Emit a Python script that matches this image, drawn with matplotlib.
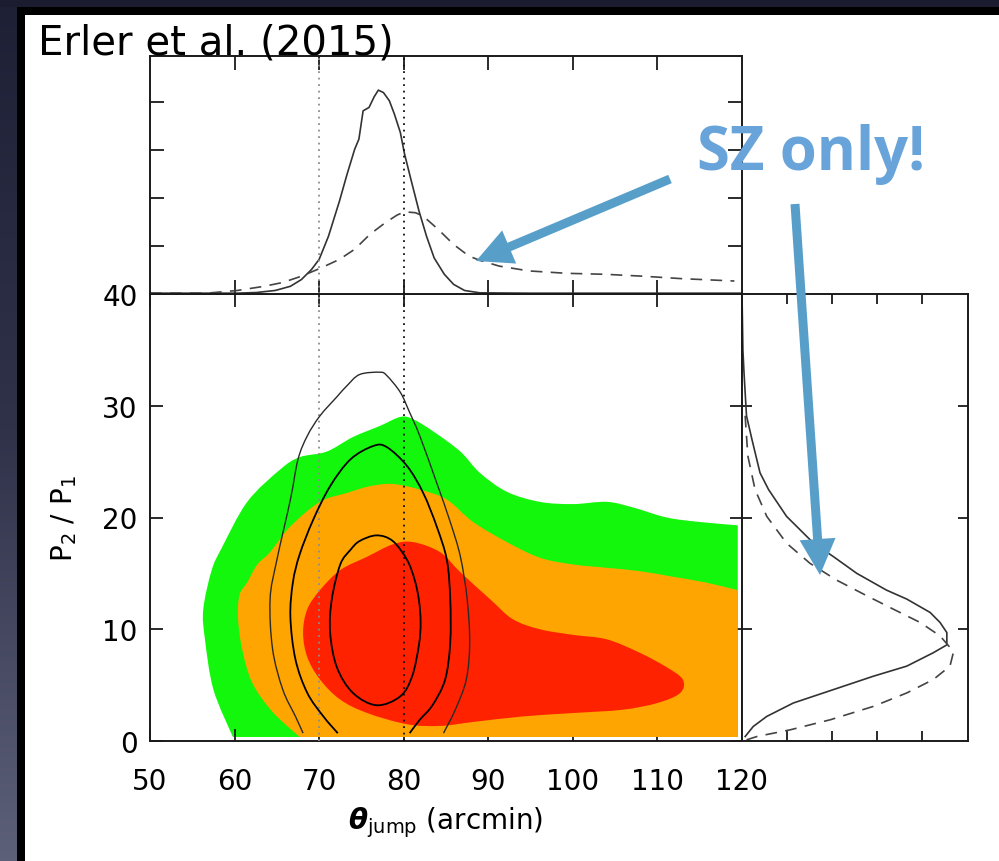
import numpy as np
import matplotlib
matplotlib.use("Agg")
import matplotlib.pyplot as plt
from matplotlib.patches import Rectangle, FancyArrow, PathPatch
from matplotlib.path import Path
from matplotlib.colors import LinearSegmentedColormap

# ---- 2D credible regions (theta_jump [arcmin], P2/P1) : joint SZ + X-ray fit ----
# last entry of each filled region is the corner on the plot edge
green_theta = [59.8, 57.5, 56.5, 56.3, 57.3, 58.5, 61.5, 65.4, 67.7, 70.9, 74.0, 77.2,
               79.6, 81.1, 83.5, 86.7, 89.0, 92.2, 96.1, 100.0, 104.0, 107.1, 111.1,
               115.0, 119.5, 119.5]
green_p = [0.36, 4.6, 9.1, 11.8, 15.3, 17.3, 21.4, 24.3, 25.4, 25.9, 27.2, 28.2,
           29.0, 28.8, 27.7, 25.9, 24.0, 22.3, 21.4, 21.2, 21.4, 20.9, 20.0,
           19.6, 19.3, 0.36]

orange_theta = [67.7, 64.5, 62.1, 60.9, 60.4, 60.6, 61.5, 62.7, 64.2, 66.6, 70.1, 73.3,
                76.0, 78.7, 81.9, 85.1, 88.2, 92.2, 96.1, 100.0, 104.0, 107.9, 111.8,
                115.6, 119.5, 119.5]
orange_p = [0.36, 2.6, 5.2, 8.2, 11.1, 13.1, 14.2, 15.8, 16.9, 19.2, 21.4, 22.2,
            22.8, 23.0, 22.5, 21.6, 19.6, 17.8, 16.4, 15.8, 15.5, 15.2, 14.7,
            14.2, 13.5, 0.36]

red_theta = [72.5, 70.1, 68.6, 68.1, 68.6, 70.1, 72.5, 75.7, 78.7, 81.1, 84.3, 86.7,
             90.2, 92.9, 96.1, 100.0, 104.0, 107.9, 111.1, 113.0, 112.7, 110.0, 105.9,
             100.0, 94.1, 88.2, 84.3, 80.4, 75.7]
red_p = [3.7, 5.5, 7.5, 9.7, 11.8, 13.5, 15.3, 16.5, 17.6, 17.8, 16.9, 15.1,
         12.7, 10.9, 10.0, 9.5, 9.1, 7.9, 6.6, 5.5, 4.3, 3.4, 2.8,
         2.5, 2.2, 1.7, 1.35, 1.5, 2.5]

# ---- X-ray only contours ----
outer_theta = [68.1, 67.2, 65.7, 64.5, 64.2, 65.0, 66.6, 67.5, 68.6, 70.1, 72.1, 73.3,
               74.8, 77.2, 78.0, 79.6, 80.7, 81.9, 83.9, 85.5, 86.7, 87.5, 87.8,
               87.4, 86.1, 84.7]
outer_p = [0.7, 2.2, 4.6, 8.2, 12.7, 16.2, 21.6, 25.2, 27.3, 29.1, 30.8, 31.8,
           32.8, 33.0, 32.7, 31.2, 29.4, 27.3, 23.1, 19.6, 16.5, 12.7, 8.8,
           5.5, 2.8, 0.7]

middle_theta = [72.2, 70.5, 68.6, 67.2, 66.6, 66.9, 67.7, 69.3, 71.3, 73.7, 76.4, 78.0,
                80.4, 82.3, 83.9, 85.1, 85.5, 85.5, 84.9, 83.4, 81.9, 80.7]
middle_p = [0.7, 2.2, 4.3, 7.3, 11.1, 14.2, 16.7, 19.8, 22.8, 25.2, 26.4, 26.3,
            24.6, 22.2, 19.2, 16.2, 12.7, 8.8, 5.5, 3.2, 1.9, 0.7]

inner_theta = [71.5, 72.5, 73.7, 74.8, 76.8, 78.7, 80.4, 81.3, 81.8, 82.0, 81.8, 81.0,
               79.6, 76.8, 74.0, 72.1, 71.3]
inner_p = [12.7, 15.8, 17.1, 17.9, 18.4, 17.9, 16.2, 14.4, 12.6, 10.6, 8.6, 5.8,
           4.0, 3.2, 4.3, 6.6, 9.7]

# ---- marginal posterior of theta_jump ----
theta_xray = [50.0, 60.3, 62.6, 64.8, 66.6, 67.9, 69.1, 70.0, 71.1, 72.4, 73.3, 74.2,
              74.7, 75.2, 75.9, 76.5, 77.0, 77.6, 78.3, 78.9, 79.6, 80.1, 80.9,
              81.8, 82.7, 83.6, 84.8, 85.9, 87.2, 89.0, 95.0, 120.0]
dens_xray = [0.017, 0.017, 0.031, 0.073, 0.16, 0.30, 0.51, 0.72, 1.20, 1.93, 2.49, 3.01,
             3.22, 3.81, 3.88, 4.10, 4.24, 4.19, 4.02, 3.74, 3.36, 2.91, 2.35,
             1.73, 1.20, 0.75, 0.41, 0.20, 0.073, 0.024, 0.017, 0.017]

theta_sz = [50.0, 56.7, 60.3, 63.5, 65.7, 67.9, 70.2, 72.4, 74.2, 76.0, 77.8, 79.2,
            80.1, 81.4, 82.3, 84.1, 85.9, 87.7, 89.0, 91.3, 94.8, 99.3, 103.8,
            108.3, 112.8, 119.1]
dens_sz = [0.017, 0.017, 0.073, 0.16, 0.24, 0.37, 0.54, 0.72, 0.93, 1.24, 1.48, 1.64,
           1.71, 1.69, 1.62, 1.34, 1.03, 0.79, 0.70, 0.58, 0.48, 0.43, 0.41,
           0.37, 0.32, 0.27]

# ---- marginal posterior of P2/P1 ----
p_xray = [40.0, 35.0, 33.0, 29.1, 27.0, 24.0, 22.5, 20.1, 17.7, 16.5, 15.0, 13.5,
          12.7, 11.5, 10.6, 9.7, 8.6, 7.9, 6.7, 5.8, 4.6, 3.4, 2.2, 1.3, 0.4]
pdens_xray = [0.0, 0.02, 0.044, 0.10, 0.22, 0.40, 0.59, 0.99, 1.59, 2.03, 2.55, 3.21,
              3.66, 4.18, 4.40, 4.55, 4.55, 4.25, 3.66, 2.92, 2.03, 1.14, 0.55, 0.25, 0.07]

p_sz = [29.1, 25.5, 22.5, 20.1, 17.7, 15.9, 14.4, 13.0, 11.8, 10.6, 9.4, 8.0,
        6.7, 5.5, 4.3, 3.1, 1.9, 1.0, 0.4, 0.1]
pdens_sz = [0.07, 0.13, 0.29, 0.55, 0.99, 1.51, 2.10, 2.77, 3.36, 3.96, 4.40, 4.70,
            4.62, 4.25, 3.66, 2.92, 1.96, 1.07, 0.33, 0.10]

theta_ticks = [50, 60, 70, 80, 90, 100, 110, 120]
ratio_ticks = [0, 10, 20, 30, 40]
guide_theta = [70, 80]


def smooth_path(xs, ys, closed=False, corner=None):
    """Catmull-Rom curve through the points, as cubic Bezier path segments."""
    pts = np.column_stack([xs, ys]).astype(float)
    n = len(pts)
    verts = [pts[0]]
    codes = [Path.MOVETO]
    segs = n if closed else n - 1
    for i in range(segs):
        p1 = pts[i]
        p2 = pts[(i + 1) % n]
        p0 = pts[(i - 1) % n] if (closed or i > 0) else p1
        p3 = pts[(i + 2) % n] if (closed or i + 2 < n) else p2
        verts += [p1 + (p2 - p0) / 6.0, p2 - (p3 - p1) / 6.0, p2]
        codes += [Path.CURVE4] * 3
    if corner is not None:
        verts.append(np.asarray(corner, float))
        codes.append(Path.LINETO)
    if closed or corner is not None:
        verts.append(pts[0])
        codes.append(Path.CLOSEPOLY)
    return Path(np.array(verts), codes)


W, H = 999, 862
fig = plt.figure(figsize=(W / 100, H / 100), dpi=100)
fig.patch.set_facecolor('#1d1f35')

# slide backdrop
bg = fig.add_axes([0, 0, 1, 1], zorder=-10)
bg.set_xlim(0, W)
bg.set_ylim(H, 0)
bg.axis('off')
cmap_bg = LinearSegmentedColormap.from_list('slide', ['#1e2036', '#2f3249', '#5d6079'])
bg.imshow(np.linspace(0, 1, 256).reshape(-1, 1), cmap=cmap_bg, aspect='auto',
          extent=[0, 17, H, 0])
bg.add_patch(Rectangle((0, 0), W, 8, color='#1b1c30', lw=0))
bg.add_patch(Rectangle((17, 8), W - 17, H - 8, color='black', lw=0))
bg.add_patch(Rectangle((25, 16), W - 25, H - 16, color='white', lw=0))


def fx(px):
    return px / W


def fy(py):
    return 1 - py / H


ax = fig.add_axes([fx(150), fy(742), 592 / W, 447 / H])
axt = fig.add_axes([fx(150), fy(295), 592 / W, 238 / H])
axr = fig.add_axes([fx(742), fy(742), 226 / W, 447 / H])

spine_col = '#1a1a1a'
for a in (ax, axt, axr):
    for s in a.spines.values():
        s.set_linewidth(1.4)
        s.set_color(spine_col)

# ---- main panel ----
for xs, ys, col, z in [(green_theta, green_p, '#12f70b', 1),
                       (orange_theta, orange_p, '#ffa502', 2)]:
    path = smooth_path(xs[:-1], ys[:-1], corner=(xs[-1], ys[-1]))
    ax.add_patch(PathPatch(path, facecolor=col, edgecolor='none', zorder=z))
ax.add_patch(PathPatch(smooth_path(red_theta, red_p, closed=True),
                       facecolor='#ff2200', edgecolor='none', zorder=3))

ax.add_patch(PathPatch(smooth_path(outer_theta, outer_p), facecolor='none',
                       edgecolor='#2a2a2a', lw=1.0, zorder=5))
ax.add_patch(PathPatch(smooth_path(middle_theta, middle_p), facecolor='none',
                       edgecolor='black', lw=1.3, zorder=5))
ax.add_patch(PathPatch(smooth_path(inner_theta, inner_p, closed=True), facecolor='none',
                       edgecolor='black', lw=1.3, zorder=5))

ax.axvline(guide_theta[0], color='#8c8c8c', ls=(0, (1, 2.6)), lw=1.3, zorder=4)
ax.axvline(guide_theta[1], color='#111111', ls=(0, (1, 2.6)), lw=1.3, zorder=4)
ax.set_xlim(50, 120)
ax.set_ylim(0, 40)
ax.set_xticks(theta_ticks)
ax.set_yticks(ratio_ticks)
ax.tick_params(direction='in', length=9, width=1.3, top=True, right=True,
               labelsize=20, color=spine_col)
ax.tick_params(axis='x', pad=19)
ax.tick_params(axis='y', pad=9)
ax.set_xlabel(r'$\boldsymbol{\theta}_{\mathrm{jump}}$ (arcmin)', fontsize=20, va='center')
ax.xaxis.set_label_coords(0.5, (741 - 822) / 447)
ax.set_ylabel('P$_2$ / P$_1$', fontsize=20, va='center')
ax.yaxis.set_label_coords((64 - 150) / 592, 0.5)

# ---- top marginal: theta_jump ----
axt.plot(theta_xray, dens_xray, color='#333333', lw=1.2)
axt.plot(theta_sz, dens_sz, color='#444444', lw=1.2, dashes=(7, 5))
axt.axvline(guide_theta[0], color='#8c8c8c', ls=(0, (1, 2.6)), lw=1.3)
axt.axvline(guide_theta[1], color='#111111', ls=(0, (1, 2.6)), lw=1.3)
axt.set_xlim(50, 120)
axt.set_ylim(0, 4.95)
axt.set_xticks(theta_ticks[1:-1])
axt.set_yticks([1, 2, 3, 4])
axt.tick_params(direction='in', length=10, width=1.3, top=True, right=True,
                labelbottom=False, labelleft=False, color=spine_col)

# ---- right marginal: P2/P1 ----
axr.plot(pdens_xray, p_xray, color='#333333', lw=1.2)
axr.plot(pdens_sz, p_sz, color='#444444', lw=1.2, dashes=(7, 5))
axr.set_xlim(0, 5.02)
axr.set_ylim(0, 40)
axr.set_xticks([1, 2, 3, 4])
axr.set_yticks([10, 20, 30])
axr.tick_params(direction='in', length=7, width=1.3, top=True, right=True,
                labelbottom=False, labelleft=False, color=spine_col)

# ---- annotations ----
fig.text(fx(38), fy(55), 'Erler et al. (2015)', fontsize=29, va='baseline', ha='left',
         family='DejaVu Sans', color='black', zorder=10)
fig.text(fx(697), fy(170), 'SZ only!', fontsize=43, fontweight='bold', va='baseline',
         ha='left', family='Open Sans', color='#68a3da', zorder=10)

arrow_col = '#579fc9'
for (x0, y0), (x1, y1) in [((670, 180), (476, 262)), ((795, 205), (820, 576))]:
    arr = FancyArrow(x0 / 100, (H - y0) / 100, (x1 - x0) / 100, -(y1 - y0) / 100,
                     width=0.09, head_width=0.36, head_length=0.36,
                     length_includes_head=True, color=arrow_col, lw=0,
                     transform=fig.dpi_scale_trans, zorder=12)
    fig.add_artist(arr)

fig.savefig('out.png', dpi=100, facecolor=fig.get_facecolor())
